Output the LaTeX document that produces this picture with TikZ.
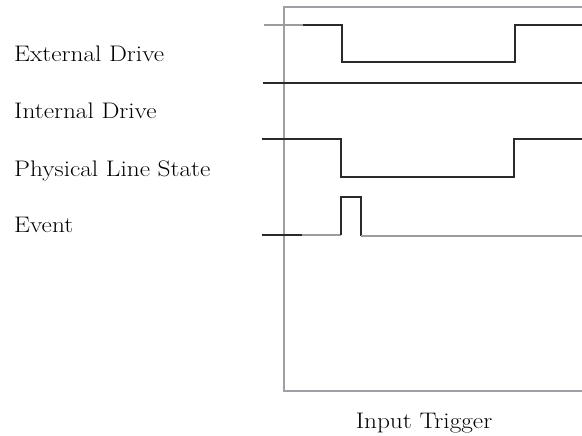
\documentclass[tikz,border=0pt]{standalone}
\newcommand{\widetxt}[1]{\scalebox{1.125}[1]{#1}}
\begin{document}
\begin{tikzpicture}[x=1pt,y=-1pt,
  wave/.style={draw=wavedark,line width=1.6pt,line join=miter},
  wavegray/.style={draw=wavegray,line width=1.6pt},
  frame/.style={draw=framegray,line width=1.6pt},
  lbl/.style={anchor=base west,inner sep=0pt,font=\fontsize{22.5}{27}\selectfont}]
\definecolor{wavedark}{HTML}{2A2A2A}
\definecolor{wavegray}{HTML}{9C9C9C}
\definecolor{framegray}{HTML}{A0A0A4}
\useasboundingbox (0,0) rectangle (582,436);
\clip (0,0) rectangle (582,436);
% frame
\draw[frame] (620,7) -- (284,7) -- (284,391) -- (620,391);
% External Drive
\draw[wavegray] (264,25) -- (303,25);
\draw[wave] (303,25) -- (342,25) -- (342,62) -- (515,62) -- (515,25) -- (590,25);
% Internal Drive
\draw[wave] (263,83) -- (590,83);
% Physical Line State
\draw[wave] (262,139) -- (341,139) -- (341,177) -- (514,177) -- (514,139) -- (590,139);
% Event
\draw[wave] (262,235) -- (302,235);
\draw[wavegray] (302,235) -- (341,235);
\draw[wave] (341,235) -- (341,197) -- (361,197) -- (361,236);
\draw[wavegray] (361,236) -- (590,236);
% labels
\node[lbl] (ext) at (14,62) {\widetxt{External Drive}};
\node[lbl] (int) at (14,119) {\widetxt{Internal Drive}};
\node[lbl] (phy) at (14,176) {\widetxt{Physical Line State}};
\node[lbl] (evt) at (14,233) {\widetxt{Event}};
\node[lbl,anchor=base] (trg) at (424,428) {\widetxt{Input Trigger}};
\end{tikzpicture}
\end{document}
